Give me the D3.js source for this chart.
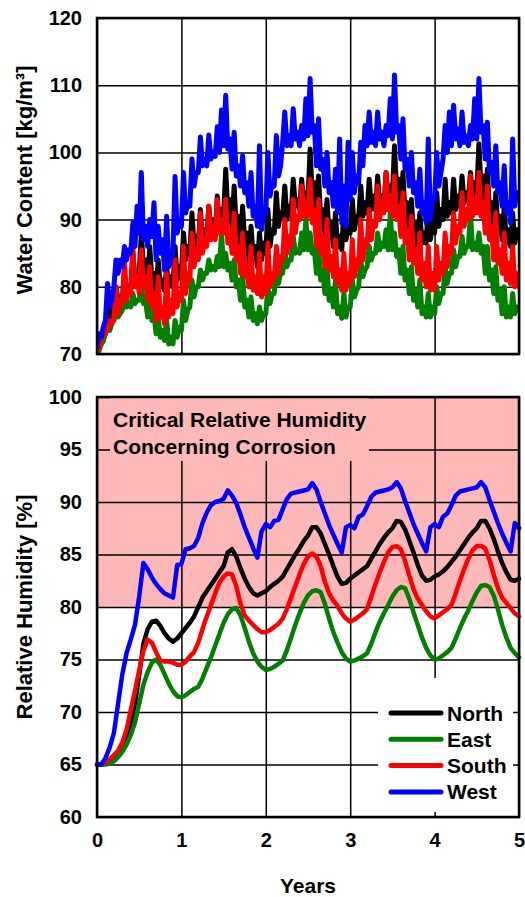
<!DOCTYPE html>
<html>
<head>
<meta charset="utf-8">
<script src="https://cdn.jsdelivr.net/npm/d3@7"></script>
<style>
  html, body { margin: 0; padding: 0; background: #fff; }
  svg { display: block; }
  text { font-family: Arial, "Liberation Sans", Helvetica, sans-serif; font-weight: bold; fill: #000; }
</style>
</head>
<body>
<div id="chart"></div>
<script>
// ---------------- DATA ----------------
const seriesNames = ["North", "East", "South", "West"];
const seriesColors = ["#000000", "#008000", "#ff0000", "#0000ff"];

const xTicks = [0, 1, 2, 3, 4, 5];
const wcTicks = [70, 80, 90, 100, 110, 120];
const rhTicks = [60, 65, 70, 75, 80, 85, 90, 95, 100];
const criticalRange = [80, 100];
const criticalLabel = ["Critical Relative Humidity", "Concerning Corrosion"];

// Water content [kg/m³], sampled every 0.025 years (0 .. 5)
const wcStep = 0.025;
const northWC = [
70,71,71.5,72, 74,77,75,76, 77,80,78,78.5, 78,82,79,80, 80,85,81,82,
82,88,83,84, 80,86,81,82, 79,84,80,81, 79.5,83,80,81.5, 80,86,81,83,
82,88,84,86, 85,91,86,87.5, 86,91.5,87,88.5, 87,92,88,90, 87.5,93.5,89,91.5,
90.5,97.5,91,93, 89,95,88.5,90.5, 86,92,86.5,88, 84,89,84.5,86, 83,88,84,86.5,
85,91.5,86,88.5, 88,94,89,91, 90.5,95,90,92, 91,96,92,93, 91.5,96,92,94,
93,100.5,93.5,95.5, 90.5,96.5,90,91.5, 88,93,87.5,89.5, 86,91,86,87.5, 85.5,91.5,87,89,
88,93,88.5,90.5, 90,95,90.5,92.5, 91,96,91.5,93.5, 91.5,96.5,92,93.5, 92,97,93,95,
93.5,101,94,96, 91,97,90.5,92.5, 88,93,87.5,89.5, 86,91,86.5,88, 86.5,92,87,89.5,
88,94,89,91.5, 90,96,90.5,92.5, 91,96,91.5,93.5, 92,96.5,92.5,94, 93,97,93.5,95.5,
94,101.3,94.5,96.5, 91.5,97.5,91,92.5, 89,94,88.5,90.5, 87,92,86.5,88.5, 86,91,86.5,88.5,
88];
const eastWC = [
70,70.5,71.5,72, 73,74,73.5,74.5, 75,76.5,75.5,76, 76.5,78,77,77.5, 77,79,77.5,78,
78,80.5,77.5,78, 75.5,78.5,75,76, 73,75.5,72.5,73.5, 72,75,71.5,72.5, 71.5,75,72.5,74,
73.5,78,75,76.5, 77,81,78.5,80, 80,82.5,81,82, 82,84,82.5,83, 82.5,84.5,83,88,
83,85,82.5,83.5, 81,84,80,81, 78,82,77,78, 75.5,78.5,75,76, 74.5,77,75,76,
76,80,77.5,79, 79,83,80.5,82, 82,85.5,83,84, 84,87.5,85,85.5, 85,88,85.5,90,
85.5,88,85,85.5, 82,86,81,82.5, 79,83,78,79.5, 77,81,76,77, 75.3,79,75.5,77,
77,81,78.5,79.5, 80,84,81.5,82.5, 83,86,84,85, 85,88,85.5,86.5, 86,88.5,85.5,91,
85.5,88,84.5,85.5, 82,86,81,82.5, 79,83,78,79.5, 77,81,76,77, 75.5,79,75.5,77,
76,80,77.5,79, 79,83,80.5,82, 82,85.5,83,84.5, 84.5,87.5,85,86, 86,91,85.5,86.5,
85.5,88,85,86, 82,86,81,82.5, 79,83,78,79.5, 76,80,75.5,77, 75.5,79,76,77,
77];
const southWC = [
70,71,72,73, 73,75,74,75, 75,80,76,78, 77.5,84,78,79.5, 79,86,80,81.5,
79,85.5,80,81.5, 78,83,77,79, 75,81.5,75.5,77, 74.5,82,75.5,78, 76,84,77,79,
78,86,79,82, 81,88,83,85.5, 84,91,85,87, 86,92,87,89, 87,93,88,90,
88,93,86.5,88.5, 85,91,84,86, 82,88,81.5,83.5, 80,86,79.5,81.5, 79,85,78.5,81.5,
79,86.5,80,82, 81,86,82,84.5, 84,90,85,87.5, 86,93,88,90.5, 90,95,90.5,92.5,
90.5,96,89.5,91.5, 86,93,85,87.5, 83,90,82.5,84.5, 81.5,87,80.5,82.5, 79.5,85,79.5,82,
80.5,87,81.5,84, 83,90,84,87, 86,91.5,87,89.5, 89,95,90,92.5, 91,97,91.5,93.5,
90.5,96.5,90,92, 87.5,94,86.5,88.5, 84,90.5,83.5,85.5, 82,88,81,83.5, 80,86,79.5,82,
79.5,86,81,83.5, 82,88,83,86, 85,91,86.5,89, 88,94,89,91.5, 90,96.5,90.5,93,
91,97,90.5,92.5, 88,95,87,89, 84,91,83.5,85.5, 82,88,81,83.5, 80.5,86,80,82,
80];
const westWC = [
71,73,72.5,74, 75,80.5,77,78, 80,84,82,84, 83,86,84,85.5, 85,89.5,86,92,
88,97,87,89, 86,90,87.5,92.5, 84,89,85,87, 82.5,90.5,83,84, 85,96.4,88,89.5,
89,97,91,92.5, 92,99,95,97, 97,102.3,98,99, 98,102.6,99,100, 99.4,103.8,100,106.3,
101,108.5,100.5,102, 97.5,103,96.5,98, 95,99.5,94,95.5, 92,97,90.5,92, 89,101,88.5,91,
91,100,93.5,95.5, 95,102.5,96.5,98, 101.5,106,101,102.5, 101,106.5,102,103, 101,104,102,108,
102.5,111,103,104, 98,105,97.5,99, 95,100,94,95.5, 92,97.5,91,102, 89.5,95,89,101.5,
93,100,94,96.5, 95.5,101.5,98,104, 101,106,101.5,103, 101,106,102,103, 101,104,102.5,108,
102,111.5,103,104, 99,105,97.5,99, 95,100,94,95.5, 92,97.5,91,92.5, 89.5,102,90,93,
93,100,95,97, 99,104,100,106, 101,107,102,103.5, 101,106,101.5,102.5, 101,104,102,108,
102,111,103,104, 99,104.5,97,98.5, 95,101,94,95.5, 92,98,91,92.5, 89.5,102,92,94,
93];

// Relative humidity [%], sampled every 0.05 years (0 .. 5)
const rhStep = 0.05;
const northRH = [
65,65,65.1,65.2,65.4,65.9,66.6,67.6,69.0,70.8,
73.5,76.5,77.9,78.6,78.7,78.2,77.5,77.0,76.7,77.0,
77.5,78.0,78.5,79.1,80.0,80.9,81.5,82.1,82.7,83.3,
83.9,85.2,85.5,84.8,83.7,82.7,81.9,81.3,81.1,81.3,
81.5,81.9,82.2,82.5,82.9,83.6,84.3,85.0,85.6,86.3,
86.8,87.6,87.6,87.0,86.0,85.0,83.9,82.9,82.2,82.3,
82.7,83.0,83.3,83.6,83.9,84.6,85.3,86.0,86.6,87.1,
87.5,88.2,88.1,87.4,86.3,85.2,84.0,83.0,82.5,82.6,
82.9,83.1,83.4,83.8,84.3,84.8,85.4,86.0,86.6,87.1,
87.5,88.2,88.2,87.5,86.5,85.3,84.2,83.3,82.6,82.5,
82.7];
const eastRH = [
65,65,65,65.1,65.3,65.7,66.2,66.9,67.8,69.0,
70.8,72.6,73.8,74.7,75.0,74.5,73.6,72.7,72.0,71.5,
71.4,71.6,71.9,72.2,72.4,73.2,74.2,75.2,76.3,77.4,
78.5,79.3,79.8,79.9,79.2,78.0,76.7,75.6,74.8,74.3,
74.0,74.1,74.3,74.6,74.9,75.9,77.1,78.3,79.4,80.4,
81.1,81.5,81.6,81.4,80.3,78.9,77.6,76.6,75.7,75.1,
74.8,74.9,75.1,75.3,75.6,76.5,77.6,78.6,79.4,80.2,
81.0,81.6,81.9,81.8,80.8,79.5,78.3,77.1,76.1,75.4,
75.0,75.1,75.4,75.7,76.1,77.0,78.0,78.9,79.7,80.6,
81.4,82.0,82.1,81.9,81.1,79.8,78.3,77.1,76.1,75.6,
75.2];
const southRH = [
65,65,65.2,65.5,65.9,66.3,67.1,68.3,70.2,72.0,
74.0,75.8,76.9,76.6,75.7,74.9,74.8,74.8,74.7,74.5,
74.5,74.8,75.3,75.7,76.6,77.9,79.1,80.2,81.3,82.3,
82.9,83.2,83.1,82.0,80.3,79.2,78.7,78.3,77.9,77.6,
77.6,77.8,78.1,78.4,78.9,79.8,80.9,82.0,83.1,84.1,
84.8,85.1,84.8,83.9,82.4,81.3,80.6,80.1,79.4,78.9,
78.6,78.8,79.1,79.4,79.8,81.0,82.2,83.3,84.3,85.2,
85.7,85.8,85.5,84.4,83.0,81.7,80.8,80.2,79.6,79.1,
78.9,79.2,79.5,79.8,80.2,81.3,82.5,83.6,84.6,85.4,
85.8,85.8,85.6,84.5,83.1,81.8,80.9,80.4,79.9,79.4,
79.1];
const westRH = [
65,65,65.6,66.6,68.0,70.8,73.6,75.6,76.9,78.3,
81.0,84.2,83.6,82.8,82.2,81.7,81.3,81.1,80.9,84.0,
84.1,85.5,85.6,85.8,86.6,88.0,89.0,89.7,90.0,90.1,
90.3,91.1,90.6,89.9,88.8,87.6,86.6,85.6,84.7,87.2,
87.9,87.6,88.2,88.3,89.3,90.3,90.8,90.9,91.0,91.1,
91.2,91.8,91.2,90.0,88.9,87.8,86.9,86.0,85.2,87.6,
87.8,87.5,88.6,88.8,89.6,90.5,90.9,91.0,91.1,91.2,
91.4,91.9,91.3,90.1,89.0,87.9,87.0,86.1,85.3,87.6,
87.9,87.6,88.6,88.9,89.7,90.6,91.0,91.1,91.2,91.3,
91.4,91.9,91.4,90.2,89.1,88.0,87.0,86.1,85.3,88.0,
87.5];

const wcSeries = [northWC, eastWC, southWC, westWC];
const rhSeries = [northRH, eastRH, southRH, westRH];

// ---------------- LAYOUT ----------------
const W = 525, H = 897;
const left = 97, right = 519;
const top1 = 18, bot1 = 354;
const top2 = 397, bot2 = 817;

const svg = d3.select("#chart").append("svg").attr("width", W).attr("height", H);

const x = d3.scaleLinear().domain([0, 5]).range([left, right]);
const yWC = d3.scaleLinear().domain([70, 120]).range([bot1, top1]);
const yRH = d3.scaleLinear().domain([60, 100]).range([bot2, top2]);

function styleGrid(g) {
  g.select(".domain").remove();
  g.selectAll(".tick line").attr("stroke", "#000").attr("stroke-width", 1.5);
  g.selectAll(".tick text").style("font-size", "20px").style("font-weight", "bold")
    .style("font-family", 'Arial, "Liberation Sans", sans-serif').attr("fill", "#000");
}

// ---------- TOP PANEL ----------
const gTop = svg.append("g");
gTop.append("g").attr("transform", `translate(${left},0)`)
  .call(d3.axisLeft(yWC).tickValues(wcTicks).tickSize(-(right - left)).tickPadding(15))
  .call(styleGrid);
gTop.append("g").attr("transform", `translate(0,${bot1})`)
  .call(d3.axisBottom(x).tickValues(xTicks).tickSize(-(bot1 - top1)).tickFormat(""))
  .call(styleGrid);

const lineWC = d3.line().x((d, i) => x(i * wcStep)).y(d => yWC(d));
gTop.append("defs").append("clipPath").attr("id", "clipTop")
  .append("rect").attr("x", left).attr("y", top1).attr("width", right - left).attr("height", bot1 - top1);
gTop.append("g").attr("clip-path", "url(#clipTop)")
  .selectAll("path").data(wcSeries).join("path")
  .attr("d", lineWC).attr("fill", "none")
  .attr("stroke", (d, i) => seriesColors[i]).attr("stroke-width", 5)
  .attr("stroke-linejoin", "round").attr("stroke-linecap", "round");

gTop.append("rect").attr("x", left).attr("y", top1).attr("width", right - left).attr("height", bot1 - top1)
  .attr("fill", "none").attr("stroke", "#000").attr("stroke-width", 2.5);

svg.append("text").attr("transform", `translate(32,180) rotate(-90)`)
  .attr("text-anchor", "middle").style("font-size", "22px").text("Water Content [kg/m³]");

// ---------- BOTTOM PANEL ----------
const gBot = svg.append("g");
gBot.append("rect").attr("x", left).attr("y", yRH(criticalRange[1]))
  .attr("width", right - left).attr("height", yRH(criticalRange[0]) - yRH(criticalRange[1]))
  .attr("fill", "#ffb8b8");

gBot.append("g").attr("transform", `translate(${left},0)`)
  .call(d3.axisLeft(yRH).tickValues(rhTicks).tickSize(-(right - left)).tickPadding(15))
  .call(styleGrid);
gBot.append("g").attr("transform", `translate(0,${bot2})`)
  .call(d3.axisBottom(x).tickValues(xTicks).tickSize(-(bot2 - top2)).tickPadding(16).tickFormat(d3.format("d")))
  .call(styleGrid);

// text box covering grid
gBot.append("rect").attr("x", 110).attr("y", top2 + 1).attr("width", 259).attr("height", 63).attr("fill", "#ffb8b8");
gBot.append("text").attr("x", 113).attr("y", 427).style("font-size", "21px").text(criticalLabel[0]);
gBot.append("text").attr("x", 113).attr("y", 454).style("font-size", "21px").text(criticalLabel[1]);

// legend box covering grid
gBot.append("rect").attr("x", 378).attr("y", 678).attr("width", 135).attr("height", 134).attr("fill", "#fff");

const lineRH = d3.line().x((d, i) => x(i * rhStep)).y(d => yRH(d));
gBot.append("g").selectAll("path").data(rhSeries).join("path")
  .attr("d", lineRH).attr("fill", "none")
  .attr("stroke", (d, i) => seriesColors[i]).attr("stroke-width", 4.5)
  .attr("stroke-linejoin", "round").attr("stroke-linecap", "round");

gBot.append("rect").attr("x", left).attr("y", top2).attr("width", right - left).attr("height", bot2 - top2)
  .attr("fill", "none").attr("stroke", "#000").attr("stroke-width", 2.5);

// legend
const legend = gBot.append("g");
seriesNames.forEach((name, i) => {
  const yy = 713 + i * 26.3;
  legend.append("line").attr("x1", 391).attr("x2", 441).attr("y1", yy).attr("y2", yy)
    .attr("stroke", seriesColors[i]).attr("stroke-width", 5).attr("stroke-linecap", "round");
  legend.append("text").attr("x", 447).attr("y", yy).attr("dy", "0.36em")
    .style("font-size", "21px").text(name);
});

svg.append("text").attr("transform", `translate(32,607) rotate(-90)`)
  .attr("text-anchor", "middle").style("font-size", "22px").text("Relative Humidity [%]");

svg.append("text").attr("x", (left + right) / 2).attr("y", 893)
  .attr("text-anchor", "middle").style("font-size", "21px").text("Years");
</script>
</body>
</html>
